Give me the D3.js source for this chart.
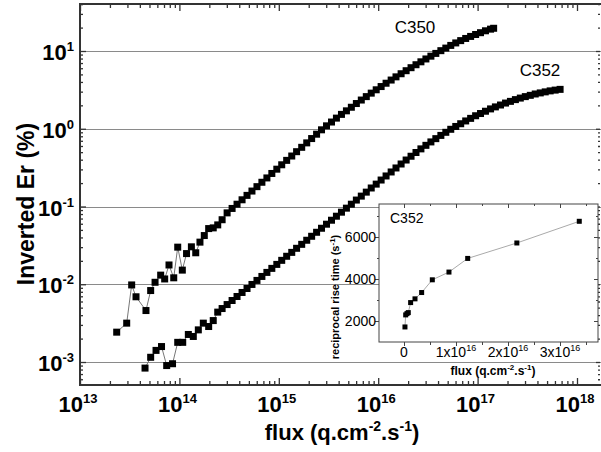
<!DOCTYPE html>
<html>
<head>
<meta charset="utf-8">
<script src="https://cdn.jsdelivr.net/npm/d3@7"></script>
<style>
body { margin: 0; background: #fff; }
text { font-family: "Liberation Sans", Arial, sans-serif; fill: #000; }
</style>
</head>
<body>
<script>
// values
var c350Flux = [2.34e13, 2.95e13, 3.31e13, 3.66e13, 4.61e13, 5.14e13, 5.69e13, 6.48e13, 7.11e13, 7.86e13,
  8.77e13, 9.62e13, 1.07e14, 1.18e14, 1.32e14, 1.46e14, 1.61e14, 1.78e14, 1.97e14, 2.19e14, 2.43e14,
  2.69e14, 3.02e14, 3.39e14, 3.80e14, 4.27e14, 4.79e14, 5.37e14, 6.03e14, 6.76e14, 7.59e14, 8.51e14, 9.55e14,
  1.07e15, 1.20e15, 1.35e15, 1.51e15, 1.70e15, 1.91e15, 2.14e15, 2.40e15, 2.69e15, 3.02e15, 3.39e15, 3.80e15,
  4.27e15, 4.79e15, 5.37e15, 6.03e15, 6.76e15, 7.59e15, 8.51e15, 9.55e15,
  1.07e16, 1.20e16, 1.35e16, 1.51e16, 1.70e16, 1.91e16, 2.14e16, 2.40e16, 2.69e16, 3.02e16, 3.39e16, 3.80e16,
  4.27e16, 4.79e16, 5.37e16, 6.03e16, 6.76e16, 7.59e16, 8.51e16, 9.55e16,
  1.07e17, 1.20e17, 1.35e17, 1.45e17];
var c350Er = [2.42e-3, 3.16e-3, 9.8e-3, 6.9e-3, 4.59e-3, 8.3e-3, 1.06e-2, 1.31e-2, 1.17e-2, 1.77e-2,
  1.21e-2, 3.0e-2, 1.52e-2, 2.48e-2, 3.03e-2, 2.54e-2, 3.48e-2, 4.23e-2, 5.2e-2, 5.31e-2, 5.8e-2,
  6.76e-2, 8.28e-2, 9.44e-2, 0.107, 0.122, 0.139, 0.158, 0.180, 0.205, 0.233, 0.266, 0.302,
  0.344, 0.392, 0.446, 0.507, 0.577, 0.658, 0.748, 0.851, 0.969, 1.09, 1.22, 1.37,
  1.53, 1.70, 1.89, 2.11, 2.34, 2.59, 2.87, 3.17,
  3.49, 3.85, 4.23, 4.65, 5.10, 5.58, 6.10, 6.66, 7.26, 7.90, 8.58, 9.31,
  10.1, 10.9, 11.8, 12.7, 13.6, 14.5, 15.4, 16.3,
  17.2, 18.2, 19.1, 19.6];

var c352Flux = [4.51e13, 5.14e13, 5.82e13, 6.61e13, 7.45e13, 8.53e13, 9.62e13, 1.08e14, 1.23e14, 1.38e14,
  1.55e14, 1.74e14, 1.97e14, 2.19e14, 2.43e14,
  2.69e14, 3.02e14, 3.39e14, 3.80e14, 4.27e14, 4.79e14, 5.37e14, 6.03e14, 6.76e14, 7.59e14, 8.51e14, 9.55e14,
  1.07e15, 1.20e15, 1.35e15, 1.51e15, 1.70e15, 1.91e15, 2.14e15, 2.40e15, 2.69e15, 3.02e15, 3.39e15, 3.80e15,
  4.27e15, 4.79e15, 5.37e15, 6.03e15, 6.76e15, 7.59e15, 8.51e15, 9.55e15,
  1.07e16, 1.20e16, 1.35e16, 1.51e16, 1.70e16, 1.91e16, 2.14e16, 2.40e16, 2.69e16, 3.02e16, 3.39e16, 3.80e16,
  4.27e16, 4.79e16, 5.37e16, 6.03e16, 6.76e16, 7.59e16, 8.51e16, 9.55e16,
  1.07e17, 1.20e17, 1.35e17, 1.51e17, 1.70e17, 1.91e17, 2.14e17, 2.40e17, 2.69e17, 3.02e17, 3.39e17, 3.80e17,
  4.27e17, 4.79e17, 5.37e17, 6.03e17, 6.76e17];
var c352Er = [8.35e-4, 1.15e-3, 1.41e-3, 1.58e-3, 9.0e-4, 9.5e-4, 1.79e-3, 1.79e-3, 2.26e-3, 2.13e-3,
  2.59e-3, 3.16e-3, 2.86e-3, 3.41e-3, 4.38e-3,
  4.87e-3, 5.48e-3, 6.18e-3, 6.96e-3, 7.84e-3, 8.82e-3, 9.94e-3, 1.12e-2, 1.26e-2, 1.42e-2, 1.60e-2, 1.80e-2,
  2.03e-2, 2.29e-2, 2.57e-2, 2.90e-2, 3.26e-2, 3.68e-2, 4.14e-2, 4.66e-2, 5.25e-2, 5.92e-2, 6.66e-2, 7.50e-2,
  8.45e-2, 9.52e-2, 0.107, 0.121, 0.136, 0.153, 0.173, 0.194,
  0.219, 0.247, 0.278, 0.313, 0.352, 0.396, 0.443, 0.495, 0.551, 0.612, 0.677, 0.746,
  0.821, 0.900, 0.984, 1.07, 1.16, 1.26, 1.36, 1.47,
  1.57, 1.68, 1.80, 1.91, 2.02, 2.14, 2.25, 2.37, 2.48, 2.59, 2.69, 2.80,
  2.89, 2.98, 3.07, 3.14, 3.21];

// inset: C352 reciprocal rise time vs flux
var insetFlux = [0.019e16, 0.033e16, 0.058e16, 0.083e16, 0.128e16, 0.212e16, 0.34e16, 0.545e16, 0.865e16, 1.225e16, 2.17e16, 3.37e16];
var insetRate = [1714, 2286, 2348, 2395, 2871, 3048, 3348, 3952, 4319, 4967, 5700, 6729];

var mainXExp = [13, 14, 15, 16, 17, 18];
var mainYExp = [1, 0, -1, -2, -3];
var insetXTicks = [0, 1e16, 2e16, 3e16];
var insetXLabels = ["0", "1x10", "2x10", "3x10"];
var insetYTicks = [2000, 4000, 6000];

var width = 601, height = 452;
var svg = d3.select("body").append("svg")
  .attr("width", width)
  .attr("height", height);

var box = { l: 80, r: 601, t: 4, b: 385 };

var x = d3.scaleLog().domain([1e13, 1e18]).range([80, 577]);
var y = d3.scaleLog().domain([1e-3, 10]).range([362, 51]);

function logTicks(lo, hi) {
  var out = [];
  for (var e = Math.floor(Math.log10(lo)); e <= Math.ceil(Math.log10(hi)); e++) {
    for (var m = 1; m < 10; m++) {
      var v = m * Math.pow(10, e);
      if (v >= lo * 0.999 && v <= hi) out.push(v);
    }
  }
  return out;
}
function isDecade(v) {
  var l = Math.log10(v);
  return Math.abs(l - Math.round(l)) < 1e-6;
}

var xt = logTicks(x.invert(box.l), x.invert(box.r));
var yt = logTicks(y.invert(box.b), y.invert(box.t));

// grid lines at each decade
svg.append("g").selectAll("line")
  .data(mainYExp)
  .enter().append("line")
    .attr("x1", box.l).attr("x2", box.r)
    .attr("y1", function(d) { return Math.round(y(Math.pow(10, d))) + 0.5; })
    .attr("y2", function(d) { return Math.round(y(Math.pow(10, d))) + 0.5; })
    .attr("stroke", "#8a8a8a")
    .attr("stroke-width", 1);

// axes (ticks point inward)
function styleAxis(g, major, minor, horiz) {
  g.select(".domain").remove();
  g.selectAll(".tick line")
    .attr("stroke", "#333")
    .attr("stroke-width", 1.3)
    .each(function(d) {
      var len = isDecade(d) ? major : minor;
      d3.select(this).attr(horiz ? "y2" : "x2", len);
    });
}

var gBottom = svg.append("g").attr("transform", "translate(0," + box.b + ")")
  .call(d3.axisBottom(x).tickValues(xt).tickFormat(""));
styleAxis(gBottom, -7, -4, true);

var gTop = svg.append("g").attr("transform", "translate(0," + box.t + ")")
  .call(d3.axisTop(x).tickValues(xt).tickFormat(""));
styleAxis(gTop, 7, 4, true);

var gLeft = svg.append("g").attr("transform", "translate(" + box.l + ",0)")
  .call(d3.axisLeft(y).tickValues(yt).tickFormat(""));
styleAxis(gLeft, 6, 3, false);

var gRight = svg.append("g").attr("transform", "translate(" + (box.r - 1) + ",0)")
  .call(d3.axisRight(y).tickValues(yt).tickFormat(""));
styleAxis(gRight, -4, -2, false);

// frame
svg.append("path")
  .attr("d", "M" + box.r + "," + box.t + "H" + box.l + "V" + box.b + "H" + box.r)
  .attr("fill", "none")
  .attr("stroke", "#333")
  .attr("stroke-width", 2);

// tick labels 10^n
mainXExp.forEach(function(e) {
  var t = svg.append("text")
    .attr("x", x(Math.pow(10, e)) - 2)
    .attr("y", 412)
    .attr("text-anchor", "middle")
    .attr("font-size", 22)
    .attr("font-weight", "bold");
  t.append("tspan").text("10");
  t.append("tspan").attr("dy", -9).attr("font-size", 13).text(e);
});
mainYExp.forEach(function(e) {
  var t = svg.append("text")
    .attr("x", 74)
    .attr("y", y(Math.pow(10, e)) + 9)
    .attr("text-anchor", "end")
    .attr("font-size", 22)
    .attr("font-weight", "bold");
  t.append("tspan").text("10");
  t.append("tspan").attr("dy", -9).attr("font-size", 13).text(e);
});

// axis titles
var xTitle = svg.append("text")
  .attr("x", 342).attr("y", 440)
  .attr("text-anchor", "middle")
  .attr("font-size", 22)
  .attr("font-weight", "bold");
xTitle.append("tspan").text("flux (q.cm");
xTitle.append("tspan").attr("dy", -9).attr("font-size", 14).text("-2");
xTitle.append("tspan").attr("dy", 9).text(".s");
xTitle.append("tspan").attr("dy", -9).attr("font-size", 14).text("-1");
xTitle.append("tspan").attr("dy", 9).text(")");

svg.append("text")
  .attr("transform", "translate(34,204) rotate(-90)")
  .attr("text-anchor", "middle")
  .attr("font-size", 23)
  .attr("font-weight", "bold")
  .text("Inverted Er (%)");

// series
var line = d3.line()
  .x(function(d) { return x(d[0]); })
  .y(function(d) { return y(d[1]); });

function drawSeries(fx, vals) {
  var pts = fx.map(function(f, i) { return [f, vals[i]]; });
  svg.append("path")
    .datum(pts)
    .attr("d", line)
    .attr("fill", "none")
    .attr("stroke", "#777")
    .attr("stroke-width", 1);
  svg.append("g").selectAll("rect")
    .data(pts)
    .enter().append("rect")
      .attr("x", function(d) { return x(d[0]) - 3.5; })
      .attr("y", function(d) { return y(d[1]) - 3.5; })
      .attr("width", 7)
      .attr("height", 7)
      .attr("fill", "#000");
}
drawSeries(c350Flux, c350Er);
drawSeries(c352Flux, c352Er);

svg.append("text").attr("x", 415).attr("y", 33).attr("text-anchor", "middle")
  .attr("font-size", 17).text("C350");
svg.append("text").attr("x", 540).attr("y", 76).attr("text-anchor", "middle")
  .attr("font-size", 17).text("C352");

// ---- inset ----
var ib = { l: 379, r: 598, t: 204, b: 342 };
var ix = d3.scaleLinear().domain([-0.48e16, 3.73e16]).range([ib.l, ib.r]);
var iy = d3.scaleLinear().domain([1000, 7550]).range([ib.b, ib.t]);

svg.append("rect")
  .attr("x", ib.l).attr("y", ib.t)
  .attr("width", ib.r - ib.l).attr("height", ib.b - ib.t)
  .attr("fill", "#fff")
  .attr("stroke", "#444")
  .attr("stroke-width", 1);

var ixt = d3.range(-0.5e16, 3.75e16, 0.5e16).filter(function(v) { return ix(v) > ib.l + 1 && ix(v) < ib.r - 1; });
var iyt = d3.range(1000, 8000, 1000).filter(function(v) { return iy(v) < ib.b - 1 && iy(v) > ib.t + 1; });
function isInsetMajorX(v) { return Math.abs(v / 1e16 - Math.round(v / 1e16)) < 1e-6; }
function isInsetMajorY(v) { return v % 2000 === 0; }

var ticks = svg.append("g").attr("stroke", "#444").attr("stroke-width", 1);
ixt.forEach(function(v) {
  var px = Math.round(ix(v)) + 0.5;
  var big = isInsetMajorX(v);
  ticks.append("line").attr("x1", px).attr("x2", px).attr("y1", ib.b).attr("y2", ib.b + (big ? 4 : 3));
  ticks.append("line").attr("x1", px).attr("x2", px).attr("y1", ib.t).attr("y2", ib.t + (big ? 4 : 2));
});
iyt.forEach(function(v) {
  var py = Math.round(iy(v)) + 0.5;
  var big = isInsetMajorY(v);
  ticks.append("line").attr("x1", ib.l).attr("x2", ib.l - (big ? 4 : 2)).attr("y1", py).attr("y2", py);
  ticks.append("line").attr("x1", ib.r).attr("x2", ib.r - (big ? 4 : 2)).attr("y1", py).attr("y2", py);
});

insetXTicks.forEach(function(v, i) {
  var t = svg.append("text")
    .attr("x", ix(v))
    .attr("y", 357)
    .attr("text-anchor", "middle")
    .attr("font-size", 14);
  t.append("tspan").text(insetXLabels[i]);
  if (v !== 0) t.append("tspan").attr("dy", -6).attr("font-size", 9).text("16");
});
insetYTicks.forEach(function(v) {
  svg.append("text")
    .attr("x", 376)
    .attr("y", iy(v) + 5)
    .attr("text-anchor", "end")
    .attr("font-size", 14)
    .text(v);
});

var ixTitle = svg.append("text")
  .attr("x", 493).attr("y", 375)
  .attr("text-anchor", "middle")
  .attr("font-size", 12)
  .attr("font-weight", "bold");
ixTitle.append("tspan").text("flux (q.cm");
ixTitle.append("tspan").attr("dy", -5).attr("font-size", 8).text("-2");
ixTitle.append("tspan").attr("dy", 5).text(".s");
ixTitle.append("tspan").attr("dy", -5).attr("font-size", 8).text("-1");
ixTitle.append("tspan").attr("dy", 5).text(")");

var iyTitle = svg.append("text")
  .attr("transform", "translate(339,297) rotate(-90)")
  .attr("text-anchor", "middle")
  .attr("font-size", 11)
  .attr("font-weight", "bold");
iyTitle.append("tspan").text("reciprocal rise time (s");
iyTitle.append("tspan").attr("dy", -4).attr("font-size", 8).text("-1");
iyTitle.append("tspan").attr("dy", 4).text(")");

svg.append("text").attr("x", 390).attr("y", 223).attr("font-size", 14).text("C352");

var ipts = insetFlux.map(function(f, i) { return [f, insetRate[i]]; });
svg.append("path")
  .datum(ipts)
  .attr("d", d3.line().x(function(d) { return ix(d[0]); }).y(function(d) { return iy(d[1]); }))
  .attr("fill", "none")
  .attr("stroke", "#aaa")
  .attr("stroke-width", 1);
svg.append("g").selectAll("rect")
  .data(ipts)
  .enter().append("rect")
    .attr("x", function(d) { return ix(d[0]) - 2.5; })
    .attr("y", function(d) { return iy(d[1]) - 2.5; })
    .attr("width", 5)
    .attr("height", 5)
    .attr("fill", "#000");
</script>
</body>
</html>
